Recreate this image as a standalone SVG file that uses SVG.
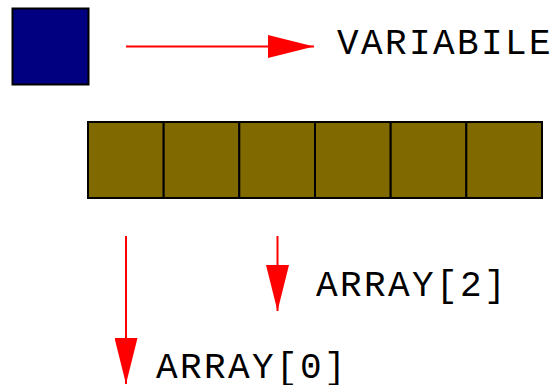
<svg xmlns="http://www.w3.org/2000/svg" width="555" height="385" viewBox="0 0 555 385">
  <style>
    .var { fill: #000080; stroke: #000; stroke-width: 2; }
    .cell { fill: #806A00; stroke: #000; stroke-width: 2; }
    .link { stroke: #FF0000; stroke-width: 2; fill: none; marker-end: url(#head); }
    .label { font-family: "Liberation Mono", "Courier New", monospace; font-size: 36px; letter-spacing: 2.4px; fill: #000; }
  </style>
  <defs>
    <marker id="head" markerUnits="userSpaceOnUse" markerWidth="46" markerHeight="23" refX="46" refY="11.5" orient="auto">
      <path d="M0,0 L46,11.5 L0,23 z" fill="#FF0000"/>
    </marker>
  </defs>

  <!-- single variable -->
  <g id="variable">
    <rect class="var" x="12.5" y="8.5" width="76" height="76"/>
  </g>

  <!-- array of six cells -->
  <g id="array">
    <rect class="cell" x="88" y="122" width="75.7" height="76"/>
    <rect class="cell" x="163.7" y="122" width="75.7" height="76"/>
    <rect class="cell" x="239.3" y="122" width="75.7" height="76"/>
    <rect class="cell" x="315" y="122" width="75.7" height="76"/>
    <rect class="cell" x="390.7" y="122" width="75.7" height="76"/>
    <rect class="cell" x="466.3" y="122" width="75.7" height="76"/>
  </g>

  <!-- labels -->
  <g id="label-variabile">
    <text class="label" x="337" y="54">VARIABILE</text>
  </g>
  <g id="label-array2">
    <text class="label" x="316" y="296">ARRAY[2]</text>
  </g>
  <g id="label-array0">
    <text class="label" x="156" y="378">ARRAY[0]</text>
  </g>

  <!-- arrows -->
  <g id="connectors">
    <line class="link" x1="126" y1="46.5" x2="314" y2="46.5"/>
    <line class="link" x1="277.5" y1="236" x2="277.5" y2="311"/>
    <line class="link" x1="126" y1="236" x2="126" y2="384"/>
  </g>
</svg>
